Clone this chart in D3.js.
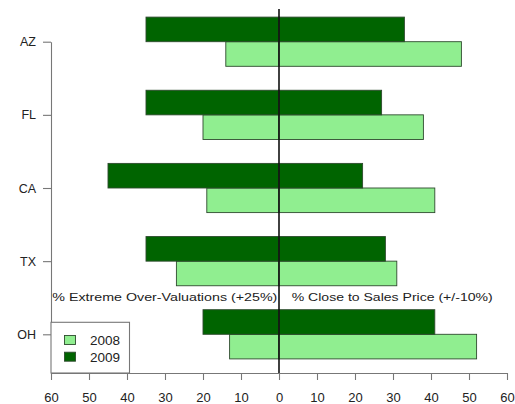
<!DOCTYPE html>
<html>
<head>
<meta charset="utf-8">
<script src="https://cdn.jsdelivr.net/npm/d3@7"></script>
<style>
  html, body { margin: 0; padding: 0; background: #fff; }
  svg { display: block; font-family: "Liberation Sans", Arial, sans-serif; }
</style>
</head>
<body>
<svg id="chart" width="515" height="404"></svg>
<script>
// States, top to bottom
const states = ["AZ", "FL", "CA", "TX", "OH"];
const years = ["2008", "2009"];

// % of appraisals that were extreme over-valuations (+25%), drawn to the left
const overVal2008 = [14, 20, 19, 27, 13];
const overVal2009 = [35, 35, 45, 35, 20];

// % of appraisals close to the sales price (+/-10%), drawn to the right
const closeVal2008 = [48, 38, 41, 31, 52];
const closeVal2009 = [33, 27, 22, 28, 41];

const xTicks = [-60, -50, -40, -30, -20, -10, 0, 10, 20, 30, 40, 50, 60];

const colors = { "2008": "#90ee90", "2009": "#006400" };

const svg = d3.select("#chart");

const x = d3.scaleLinear().domain([-60, 60]).range([51, 507]);
const y = d3.scalePoint().domain(states).range([41.7, 334.3]);
const barH = 24.6;
// 2009 bar sits above the state's tick, 2008 below it
const sub = d3.scaleBand().domain(["2009", "2008"]).range([-barH, barH]);

const rows = [];
states.forEach((s, i) => {
  rows.push({ state: s, year: "2008", left: overVal2008[i], right: closeVal2008[i] });
  rows.push({ state: s, year: "2009", left: overVal2009[i], right: closeVal2009[i] });
});

const bars = svg.append("g");
rows.forEach(d => {
  const top = y(d.state) + sub(d.year);
  bars.append("rect")
    .attr("x", x(-d.left)).attr("y", top)
    .attr("width", x(0) - x(-d.left)).attr("height", sub.bandwidth())
    .attr("fill", colors[d.year]).attr("stroke", "#2e4a2e").attr("stroke-width", 0.9);
  bars.append("rect")
    .attr("x", x(0)).attr("y", top)
    .attr("width", x(d.right) - x(0)).attr("height", sub.bandwidth())
    .attr("fill", colors[d.year]).attr("stroke", "#2e4a2e").attr("stroke-width", 0.9);
});

// zero line
svg.append("line")
  .attr("x1", x(0)).attr("x2", x(0)).attr("y1", 9).attr("y2", 373)
  .attr("stroke", "#111").attr("stroke-width", 1.6);

// bottom axis
const xAxis = d3.axisBottom(x).tickValues(xTicks).tickFormat(d => Math.abs(d))
  .tickSizeInner(7).tickSizeOuter(0).tickPadding(13);
const gx = svg.append("g").attr("transform", "translate(0,373)").call(xAxis);
gx.select(".domain").attr("stroke", "#777").attr("stroke-width", 1.1);
gx.selectAll(".tick line").attr("stroke", "#777").attr("stroke-width", 1.1);
gx.selectAll(".tick text").attr("fill", "#222").attr("font-size", 13)
  .attr("font-family", "Liberation Sans, Arial, sans-serif");

// left axis
const yAxis = d3.axisLeft(y).tickSizeInner(8).tickSizeOuter(0).tickPadding(7);
const gy = svg.append("g").attr("transform", "translate(51,0)").call(yAxis);
gy.select(".domain").attr("stroke", "#777").attr("stroke-width", 1.1);
gy.selectAll(".tick line").attr("stroke", "#777").attr("stroke-width", 1.1);
gy.selectAll(".tick text").attr("fill", "#222").attr("font-size", 12.5)
  .attr("font-family", "Liberation Sans, Arial, sans-serif");

// side captions
svg.append("text")
  .attr("x", 52.3).attr("y", 296.7).attr("dy", "0.35em")
  .attr("font-size", 11.5).attr("fill", "#222")
  .attr("textLength", 225).attr("lengthAdjust", "spacingAndGlyphs")
  .text("% Extreme Over-Valuations (+25%)");
svg.append("text")
  .attr("x", 291.7).attr("y", 296.7).attr("dy", "0.35em")
  .attr("font-size", 11.5).attr("fill", "#222")
  .attr("textLength", 201).attr("lengthAdjust", "spacingAndGlyphs")
  .text("% Close to Sales Price (+/-10%)");

// legend
const lg = svg.append("g");
lg.append("rect")
  .attr("x", 51).attr("y", 322.3).attr("width", 78.5).attr("height", 50.7)
  .attr("fill", "#fff").attr("stroke", "#777").attr("stroke-width", 1.1);
years.forEach((yr, i) => {
  const cy = 340 + i * 16.7;
  lg.append("rect")
    .attr("x", 64.5).attr("y", cy - 4.5).attr("width", 11).attr("height", 9)
    .attr("fill", colors[yr]).attr("stroke", "#2e4a2e").attr("stroke-width", 0.9);
  lg.append("text")
    .attr("x", 90).attr("y", cy).attr("dy", "0.36em")
    .attr("font-size", 13.5).attr("fill", "#222")
    .text(yr);
});
</script>
</body>
</html>
